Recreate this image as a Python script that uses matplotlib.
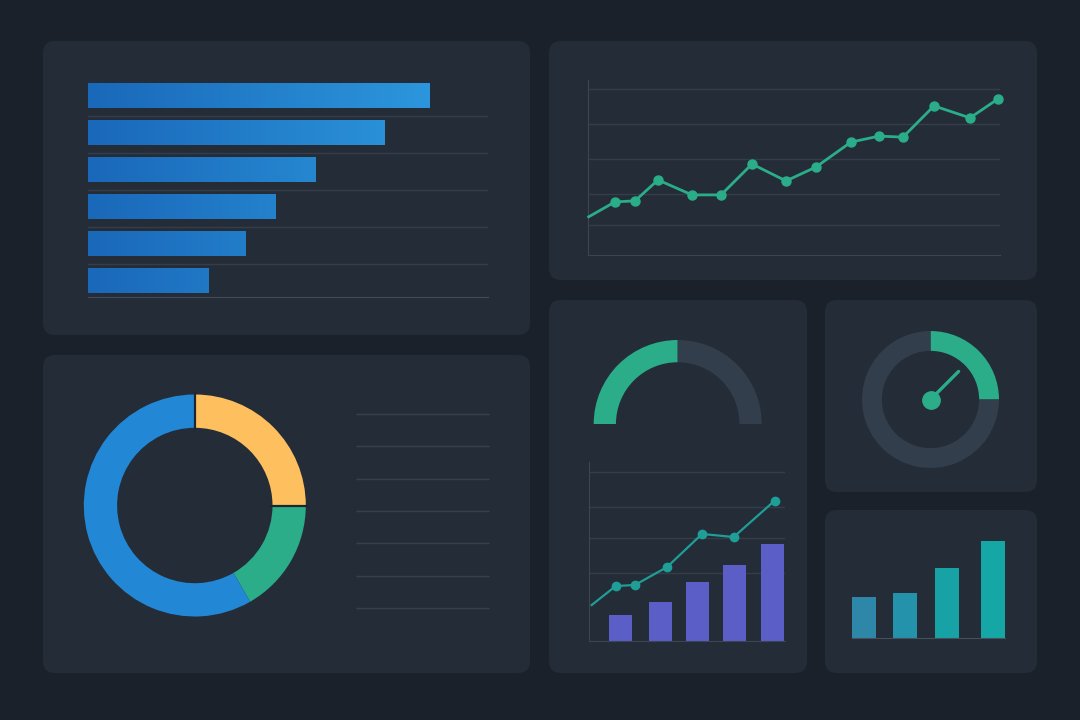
import numpy as np
import matplotlib
matplotlib.use('Agg')
import matplotlib.pyplot as plt
from matplotlib.patches import FancyBboxPatch
from matplotlib.colors import LinearSegmentedColormap

W, H = 1080, 720

# data
bar_values = [85.4, 74.2, 56.8, 47.0, 39.4, 30.1]
trend_x = [0.7, 27, 47, 70, 104, 133, 164, 198, 228, 263, 291, 315, 346, 382, 410]
trend_y = [11.5, 16.0, 16.3, 22.6, 18.1, 18.1, 27.4, 22.3, 26.5, 34.0, 35.8, 35.5, 44.9, 41.3, 47.0]
donut_shares = [25.0, 16.7, 58.3]
half_gauge_value = 50
ring_gauge_value = 25
needle_value = 12.5
combo_bar_x = [31.3, 71.3, 108.8, 145.8, 183.8]
combo_bar_values = [14.5, 21.8, 33.0, 42.5, 54.2]
combo_line_x = [3, 27, 46.3, 78.3, 113.3, 145, 186]
combo_line_values = [20.1, 30.7, 31.3, 41.3, 59.8, 58.1, 78.4]
small_bar_x = [12, 53.2, 94.5, 141.2]
small_bar_values = [41, 45, 70.6, 97.6]
legend_rows = 7

# colours
bg = '#1b212a'
panel = '#242c37'
grid = '#343e4a'
green = '#2aad88'
ring_gray = '#323e4c'
yellow = '#fec05f'
blue = '#2287d4'
purple = '#5b5ec7'
teal = '#1f9e98'
small_colors = ['#2e86a8', '#2592ab', '#17a2a5', '#14a7a6']

fig = plt.figure(figsize=(W / 100, H / 100), dpi=100, facecolor=bg)

# background with panels, pixel coordinates
back = fig.add_axes([0, 0, 1, 1])
back.set_xlim(0, W)
back.set_ylim(H, 0)
back.axis('off')
back.set_facecolor(bg)
panels = [(43, 41, 530, 335), (549, 41, 1037, 280), (549, 300, 807, 673),
          (825, 300, 1037, 492), (825, 510, 1037, 673), (43, 355, 530, 673)]
for x0, y0, x1, y1 in panels:
    back.add_patch(FancyBboxPatch((x0, y0), x1 - x0, y1 - y0,
                                  boxstyle='round,pad=0,rounding_size=12',
                                  facecolor=panel, edgecolor='none'))


def px_axes(x0, y0, x1, y1):
    ax = fig.add_axes([x0 / W, 1 - y1 / H, (x1 - x0) / W, (y1 - y0) / H])
    ax.set_facecolor('none')
    ax.set_xticks([])
    ax.set_yticks([])
    for s in ax.spines.values():
        s.set_visible(False)
    return ax


# --- horizontal bars
ax1 = px_axes(88, 77, 488, 297)
ylo, yhi = 5.44, -0.505
bars = ax1.barh(range(len(bar_values)), bar_values, height=0.68,
                facecolor='none', edgecolor='none')
cmap = LinearSegmentedColormap.from_list('b', ['#1a68b9', '#2f9ee2'])
grad = np.linspace(0, 1, 256).reshape(1, -1)
for b in bars:
    im = ax1.imshow(grad, extent=(0, 100, ylo, yhi), aspect='auto', cmap=cmap, zorder=2)
    im.set_clip_path(b)
for yy in np.arange(len(bar_values) - 1) + 0.56:
    ax1.axhline(yy, color=grid, lw=1, zorder=1)
ax1.spines['bottom'].set_visible(True)
ax1.spines['bottom'].set_color('#424c58')
ax1.set_xlim(0, 100)
ax1.set_ylim(ylo, yhi)

# --- trend line
ax2 = px_axes(588, 80, 1000, 255)
for yy in [9, 18.5, 29, 39.5, 50]:
    ax2.axhline(yy, color=grid, lw=1, zorder=1)
for s in ['left', 'bottom']:
    ax2.spines[s].set_visible(True)
    ax2.spines[s].set_color('#3c4652')
ax2.plot(trend_x, trend_y, color=green, lw=2.0, zorder=3, clip_on=False)
ax2.plot(trend_x[1:], trend_y[1:], 'o', color=green, ms=6.5, zorder=4, clip_on=False)
ax2.set_xlim(0, 412)
ax2.set_ylim(0, 52.7)

# --- half gauge
ax3 = px_axes(677.7 - 92, 424 - 92, 677.7 + 92, 424 + 92)
ax3.pie([half_gauge_value, 100 - half_gauge_value, 100],
        colors=[green, ring_gray, 'none'], startangle=180, counterclock=False,
        wedgeprops=dict(width=0.265, edgecolor='none'))
ax3.set_xlim(-1.095, 1.095)
ax3.set_ylim(-1.095, 1.095)

# --- combo bars + line
ax4 = px_axes(588.7, 462, 784.7, 641)
for yy in [38, 57.5, 75, 94.4]:
    ax4.axhline(yy, color=grid, lw=1, zorder=1)
for s in ['left', 'bottom']:
    ax4.spines[s].set_visible(True)
    ax4.spines[s].set_color('#3c4652')
ax4.bar(combo_bar_x, combo_bar_values, width=23, color=purple, zorder=2)
ax4.plot(combo_line_x, combo_line_values, color=teal, lw=1.6, zorder=3)
ax4.plot(combo_line_x[1:], combo_line_values[1:], 'o', color=teal, ms=6, zorder=4)
ax4.set_xlim(0, 196)
ax4.set_ylim(0, 100)

# --- ring gauge
ax5 = px_axes(930.5 - 75, 399.5 - 75, 930.5 + 75, 399.5 + 75)
ax5.pie([ring_gauge_value, 100 - ring_gauge_value], colors=[green, ring_gray],
        startangle=90, counterclock=False,
        wedgeprops=dict(width=0.29, edgecolor='none'))
ang = np.deg2rad(90 - 360 * needle_value / 100)
ax5.plot([0, 0.58 * np.cos(ang)], [0, 0.58 * np.sin(ang)], color=green,
         lw=2.4, solid_capstyle='round')
ax5.plot(0, 0, 'o', color=green, ms=12.5)
ax5.set_xlim(-1.095, 1.095)
ax5.set_ylim(-1.095, 1.095)

# --- small bars
ax6 = px_axes(852, 530, 1005, 638.3)
ax6.bar(small_bar_x, small_bar_values, width=24, color=small_colors, zorder=2)
ax6.spines['bottom'].set_visible(True)
ax6.spines['bottom'].set_color('#44505c')
ax6.set_xlim(0, 153)
ax6.set_ylim(0, 108.3)

# --- donut
ax7 = px_axes(194.8 - 120, 505.5 - 120, 194.8 + 120, 505.5 + 120)
ax7.pie(donut_shares, colors=[yellow, green, blue], startangle=90, counterclock=False,
        wedgeprops=dict(width=0.30, edgecolor='none'))
# dark seams on both sides of the yellow slice
for share in [0, donut_shares[0]]:
    a = np.deg2rad(90 - 360 * share / 100)
    ax7.plot([0.69 * np.cos(a), 1.01 * np.cos(a)], [0.69 * np.sin(a), 1.01 * np.sin(a)],
             color='#1e252f', lw=1.6)
ax7.set_xlim(-1.081, 1.081)
ax7.set_ylim(-1.081, 1.081)

# --- legend placeholder lines
ax8 = px_axes(356, 414, 489, 608)
ax8.hlines(range(legend_rows), 0, 1, color='#37414d', lw=1, clip_on=False)
ax8.set_xlim(0, 1)
ax8.set_ylim(0, legend_rows - 1)

fig.savefig('out.png', dpi=100, facecolor=bg)
